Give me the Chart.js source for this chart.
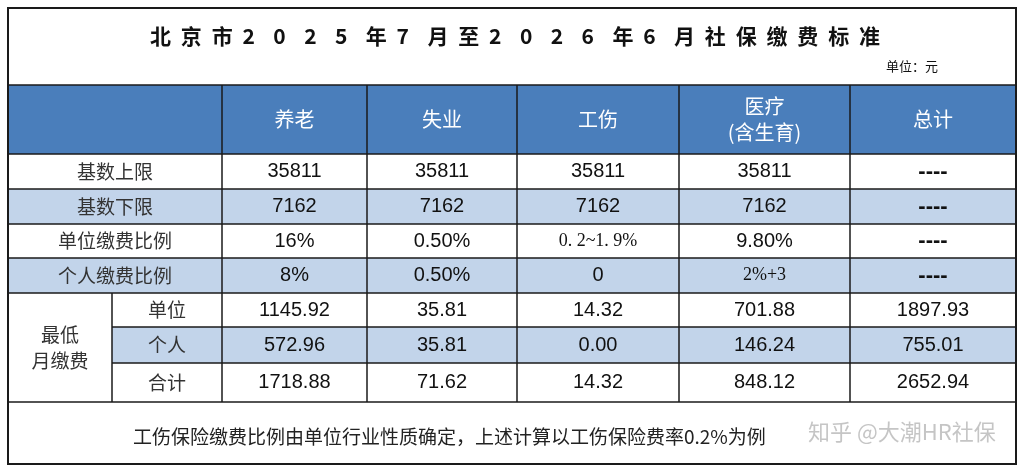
<!DOCTYPE html>
<html><head><meta charset="utf-8">
<script src="https://cdn.jsdelivr.net/npm/chart.js@4/dist/chart.umd.min.js"></script>
<style>html,body{margin:0;padding:0;background:#fff}#c{display:block}</style>
</head><body>
<canvas id="c" width="1026" height="471"></canvas>
<script>
const title = "北京市2025年7月至2026年6月社保缴费标准";
const unitLabel = "单位：元";
const headers = ["", "养老", "失业", "工伤", "医疗\n(含生育)", "总计"];
const rowLabels = ["基数上限", "基数下限", "单位缴费比例", "个人缴费比例"];
const groupLabel = "最低\n月缴费";
const subLabels = ["单位", "个人", "合计"];
const baseUpper = ["35811", "35811", "35811", "35811", "----"];
const baseLower = ["7162", "7162", "7162", "7162", "----"];
const employerRate = ["16%", "0.50%", "0. 2~1. 9%", "9.80%", "----"];
const personalRate = ["8%", "0.50%", "0", "2%+3", "----"];
const minEmployer = ["1145.92", "35.81", "14.32", "701.88", "1897.93"];
const minPersonal = ["572.96", "35.81", "0.00", "146.24", "755.01"];
const minTotal = ["1718.88", "71.62", "14.32", "848.12", "2652.94"];
const footnote = "工伤保险缴费比例由单位行业性质确定，上述计算以工伤保险费率0.2%为例";
const watermark = "知乎 @大潮HR社保";

const colEdges = [8, 222, 367, 517, 679, 850, 1016];
const rowEdges = [8, 85, 154, 189, 224, 258, 293, 327, 363, 402, 464];
const serifCells = {"0. 2~1. 9%":1, "2%+3":1};

const tablePlugin = {
  id: 'table',
  afterDraw(chart) {
    const ctx = chart.ctx, X = chart.scales.x, Y = chart.scales.y;
    const px = v => X.getPixelForValue(v), py = v => Y.getPixelForValue(v);
    const rect = (x0,y0,x1,y1,fill) => { ctx.fillStyle = fill; ctx.fillRect(px(x0), py(y0), px(x1)-px(x0), py(y1)-py(y0)); };
    const line = (x0,y0,x1,y1) => { ctx.beginPath(); ctx.moveTo(px(x0),py(y0)); ctx.lineTo(px(x1),py(y1)); ctx.stroke(); };
    const text = (s, cx, cy, font, color) => {
      ctx.font = font; ctx.fillStyle = color; ctx.textAlign = 'center'; ctx.textBaseline = 'middle';
      const lines = s.split('\n'); const lh = 26;
      lines.forEach((l, i) => ctx.fillText(l, px(cx), py(cy) + (i - (lines.length-1)/2) * lh));
    };
    const L = colEdges[0], R = colEdges[6];
    rect(L, rowEdges[1], R, rowEdges[2], '#4a7ebb');
    rect(L, rowEdges[3], R, rowEdges[4], '#c2d4ea');
    rect(L, rowEdges[5], R, rowEdges[6], '#c2d4ea');
    rect(112, rowEdges[7], R, rowEdges[8], '#c2d4ea');
    ctx.strokeStyle = '#1a1a1a'; ctx.lineWidth = 1.5;
    for (let i = 1; i <= 9; i++) {
      const x0 = (i === 7 || i === 8) ? 112 : L;
      line(x0, rowEdges[i], R, rowEdges[i]);
    }
    for (let j = 1; j <= 5; j++) line(colEdges[j], rowEdges[1], colEdges[j], rowEdges[9]);
    line(112, rowEdges[6], 112, rowEdges[9]);
    ctx.lineWidth = 2;
    ctx.strokeRect(px(L), py(rowEdges[0]), px(R)-px(L), py(rowEdges[10])-py(rowEdges[0]));
    ctx.font = 'bold 21px "Noto Sans CJK SC"'; ctx.fillStyle = '#111'; ctx.textBaseline = 'middle'; ctx.textAlign = 'left';
    const chars = [...title]; const x0 = 150, x1 = 880;
    const step = (x1 - x0 - ctx.measureText(chars[chars.length-1]).width) / (chars.length - 1);
    chars.forEach((ch, i) => ctx.fillText(ch, px(x0 + i*step), py(36)));
    ctx.font = '13px "Noto Sans CJK SC"'; ctx.fillText(unitLabel, px(886), py(66));
    const cx = j => (colEdges[j] + colEdges[j+1]) / 2, cy = i => (rowEdges[i] + rowEdges[i+1]) / 2;
    headers.forEach((h, j) => { if (h) text(h, cx(j), cy(1), '20px "Noto Sans CJK SC"', '#fff'); });
    const body = [baseUpper, baseLower, employerRate, personalRate];
    body.forEach((row, r) => {
      text(rowLabels[r], cx(0), cy(2 + r), '19px "Noto Sans CJK SC"', '#333');
      row.forEach((v, j) => {
        let font = '20px "Liberation Sans"';
        if (serifCells[v]) font = '18px "Liberation Serif"';
        if (v === '----') font = 'bold 22px "Liberation Sans"';
        text(v, cx(j+1), cy(2 + r), font, '#111');
      });
    });
    text(groupLabel, 60, (rowEdges[6] + rowEdges[9]) / 2, '19px "Noto Sans CJK SC"', '#333');
    [minEmployer, minPersonal, minTotal].forEach((row, r) => {
      text(subLabels[r], 167, cy(6 + r), '19px "Noto Sans CJK SC"', '#333');
      row.forEach((v, j) => text(v, cx(j+1), cy(6 + r), '20px "Liberation Sans"', '#111'));
    });
    ctx.font = '19px "Noto Sans CJK SC"'; ctx.fillStyle = '#222'; ctx.textAlign = 'left';
    ctx.fillText(footnote, px(133), py(437));
    ctx.font = '22px "Noto Sans CJK SC"'; ctx.fillStyle = 'rgba(150,150,150,0.55)';
    ctx.fillText(watermark, px(808), py(432));
  }
};

new Chart(document.getElementById('c'), {
  type: 'scatter',
  data: { datasets: [{ data: [], pointRadius: 0 }] },
  options: {
    responsive: false, animation: false, devicePixelRatio: 1,
    layout: { padding: 0 },
    plugins: { legend: { display: false }, tooltip: { enabled: false } },
    scales: {
      x: { type: 'linear', min: 0, max: 1026, display: false },
      y: { type: 'linear', min: 0, max: 471, reverse: true, display: false }
    }
  },
  plugins: [tablePlugin]
});
</script>
</body></html>
